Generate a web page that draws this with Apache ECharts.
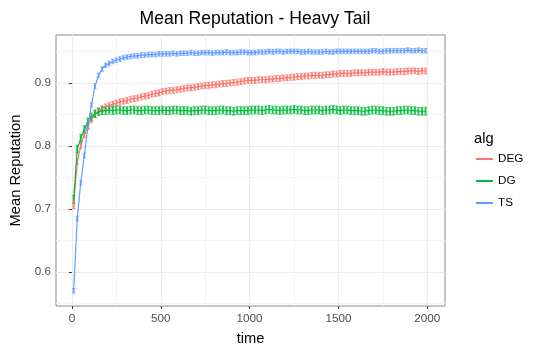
<!DOCTYPE html>
<html>
<head>
<meta charset="utf-8">
<script src="https://cdn.jsdelivr.net/npm/echarts@6/dist/echarts.min.js"></script>
<style>
  html, body { margin: 0; padding: 0; background: #fff; }
  #chart { width: 538px; height: 351px; }
</style>
</head>
<body>
<div id="chart"></div>
<script>
// time steps (every 20)
const times = [
  10, 30, 50, 70, 90, 110, 130, 150, 170, 190,
  210, 230, 250, 270, 290, 310, 330, 350, 370, 390,
  410, 430, 450, 470, 490, 510, 530, 550, 570, 590,
  610, 630, 650, 670, 690, 710, 730, 750, 770, 790,
  810, 830, 850, 870, 890, 910, 930, 950, 970, 990,
  1010, 1030, 1050, 1070, 1090, 1110, 1130, 1150, 1170, 1190,
  1210, 1230, 1250, 1270, 1290, 1310, 1330, 1350, 1370, 1390,
  1410, 1430, 1450, 1470, 1490, 1510, 1530, 1550, 1570, 1590,
  1610, 1630, 1650, 1670, 1690, 1710, 1730, 1750, 1770, 1790,
  1810, 1830, 1850, 1870, 1890, 1910, 1930, 1950, 1970, 1990
];

const degValues = [
  0.705, 0.775, 0.800, 0.818, 0.832, 0.842, 0.850, 0.855, 0.859, 0.862,
  0.864, 0.866, 0.868, 0.870, 0.871, 0.872, 0.874, 0.875, 0.876, 0.878,
  0.879, 0.880, 0.882, 0.883, 0.884, 0.886, 0.887, 0.888, 0.888, 0.889,
  0.890, 0.891, 0.892, 0.892, 0.893, 0.894, 0.895, 0.896, 0.896, 0.897,
  0.897, 0.898, 0.899, 0.899, 0.900, 0.901, 0.901, 0.902, 0.903, 0.904,
  0.904, 0.904, 0.905, 0.905, 0.905, 0.906, 0.906, 0.907, 0.907, 0.908,
  0.908, 0.909, 0.909, 0.910, 0.910, 0.911, 0.911, 0.912, 0.912, 0.912,
  0.912, 0.913, 0.913, 0.914, 0.914, 0.915, 0.915, 0.915, 0.915, 0.916,
  0.916, 0.916, 0.916, 0.917, 0.917, 0.917, 0.917, 0.918, 0.917, 0.917,
  0.917, 0.918, 0.918, 0.918, 0.919, 0.919, 0.919, 0.918, 0.919, 0.919
];

const dgValues = [
  0.715, 0.795, 0.812, 0.826, 0.838, 0.846, 0.851, 0.854, 0.856, 0.856,
  0.857, 0.856, 0.857, 0.857, 0.856, 0.856, 0.857, 0.857, 0.856, 0.856,
  0.857, 0.857, 0.856, 0.856, 0.856, 0.857, 0.856, 0.856, 0.857, 0.857,
  0.856, 0.856, 0.856, 0.855, 0.856, 0.856, 0.857, 0.857, 0.856, 0.856,
  0.856, 0.857, 0.857, 0.856, 0.856, 0.855, 0.856, 0.856, 0.856, 0.856,
  0.857, 0.857, 0.857, 0.856, 0.857, 0.858, 0.857, 0.857, 0.856, 0.857,
  0.857, 0.857, 0.858, 0.857, 0.857, 0.856, 0.856, 0.857, 0.857, 0.857,
  0.856, 0.857, 0.857, 0.858, 0.857, 0.856, 0.857, 0.857, 0.856, 0.856,
  0.856, 0.855, 0.855, 0.856, 0.857, 0.857, 0.856, 0.856, 0.855, 0.855,
  0.855, 0.856, 0.856, 0.857, 0.857, 0.856, 0.856, 0.855, 0.855, 0.855
];

const tsValues = [
  0.570, 0.685, 0.742, 0.785, 0.830, 0.865, 0.895, 0.912, 0.922, 0.928,
  0.931, 0.934, 0.936, 0.938, 0.940, 0.941, 0.942, 0.943, 0.943, 0.944,
  0.944, 0.945, 0.945, 0.945, 0.946, 0.946, 0.946, 0.946, 0.947, 0.946,
  0.947, 0.947, 0.947, 0.948, 0.947, 0.947, 0.948, 0.948, 0.948, 0.947,
  0.948, 0.948, 0.948, 0.949, 0.948, 0.948, 0.948, 0.949, 0.949, 0.948,
  0.948, 0.948, 0.949, 0.949, 0.949, 0.950, 0.949, 0.950, 0.950, 0.949,
  0.950, 0.950, 0.950, 0.950, 0.949, 0.949, 0.950, 0.949, 0.949, 0.949,
  0.949, 0.950, 0.949, 0.949, 0.950, 0.950, 0.950, 0.950, 0.950, 0.950,
  0.950, 0.950, 0.950, 0.950, 0.951, 0.951, 0.950, 0.950, 0.951, 0.951,
  0.951, 0.951, 0.951, 0.951, 0.952, 0.951, 0.951, 0.952, 0.951, 0.951
];

// half-width of the error bars, per series
const degErr = 0.0047;
const dgErr = 0.0062;
const tsErr = 0.0037;

const algNames = ['DEG', 'DG', 'TS'];
const algColors = ['#F8766D', '#00BA38', '#619CFF'];

const xTicks = [0, 500, 1000, 1500, 2000];
const xMinorTicks = [250, 750, 1250, 1750];
const yTicks = [0.6, 0.7, 0.8, 0.9];
const yMinorTicks = [0.55, 0.65, 0.75, 0.85, 0.95];

const FONT = 'Liberation Sans, Arial, Helvetica, sans-serif';

function pairs(vals) {
  return times.map((t, i) => [t, vals[i]]);
}
function bars(vals, e) {
  return times.map((t, i) => [t, vals[i] - e, vals[i] + e]);
}

function renderErr(params, api) {
  const x = api.value(0);
  const lo = api.coord([x, api.value(1)]);
  const hi = api.coord([x, api.value(2)]);
  const col = api.visual('color');
  const bar = { stroke: col, lineWidth: 2, opacity: 0.85 };
  const cap = { stroke: col, lineWidth: 1, opacity: 0.6 };
  const w = 1.8;
  return {
    type: 'group',
    children: [
      { type: 'line', shape: { x1: lo[0], y1: lo[1], x2: hi[0], y2: hi[1] }, style: bar },
      { type: 'line', shape: { x1: lo[0] - w, y1: lo[1], x2: lo[0] + w, y2: lo[1] }, style: cap },
      { type: 'line', shape: { x1: hi[0] - w, y1: hi[1], x2: hi[0] + w, y2: hi[1] }, style: cap }
    ]
  };
}

const allVals = [degValues, dgValues, tsValues];
const allErr = [degErr, dgErr, tsErr];

const series = [];
algNames.forEach((name, k) => {
  series.push({
    name: name,
    type: 'custom',
    xAxisIndex: 0,
    yAxisIndex: 0,
    color: algColors[k],
    renderItem: renderErr,
    data: bars(allVals[k], allErr[k]),
    silent: true
  });
  series.push({
    name: name,
    type: 'line',
    xAxisIndex: 0,
    yAxisIndex: 0,
    color: algColors[k],
    showSymbol: false,
    symbol: 'none',
    lineStyle: { width: 1.2, color: algColors[k] },
    data: pairs(allVals[k])
  });
});

const chart = echarts.init(document.getElementById('chart'), null, { renderer: 'canvas' });

const option = {
  animation: false,
  backgroundColor: '#fff',
  textStyle: { fontFamily: FONT },
  title: [
    {
      text: 'Mean Reputation - Heavy Tail',
      left: 250,
      top: 5,
      textAlign: 'center',
      textStyle: { fontFamily: FONT, fontSize: 17.6, fontWeight: 'normal', color: '#000' }
    },
    {
      text: 'alg',
      left: 469,
      top: 126,
      textStyle: { fontFamily: FONT, fontSize: 14.7, fontWeight: 'normal', color: '#000' }
    }
  ],
  legend: {
    data: algNames,
    orient: 'vertical',
    left: 471,
    top: 148,
    itemWidth: 17,
    itemHeight: 2,
    itemGap: 10,
    icon: 'rect',
    textStyle: { fontFamily: FONT, fontSize: 11.7, color: '#000' },
    selectedMode: false
  },
  grid: {
    left: 56,
    right: 93,
    top: 35,
    bottom: 45,
    show: true,
    borderColor: '#8c8c8c',
    borderWidth: 1,
    backgroundColor: '#fff',
    containLabel: false
  },
  xAxis: [
    {
      type: 'value',
      min: -89.5,
      max: 2099.5,
      name: 'time',
      nameLocation: 'middle',
      nameGap: 25,
      nameTextStyle: { fontFamily: FONT, fontSize: 14.7, color: '#000' },
      axisLine: { show: false },
      axisTick: { show: true, length: 3, customValues: xTicks, lineStyle: { color: '#333' } },
      axisLabel: {
        customValues: xTicks,
        formatter: v => String(v),
        fontFamily: FONT, fontSize: 11.7, color: '#4D4D4D', margin: 7
      },
      splitLine: { show: true, lineStyle: { color: '#ebebeb', width: 1.2 } }
    },
    {
      type: 'value',
      min: -89.5,
      max: 2099.5,
      position: 'bottom',
      axisLine: { show: false },
      axisTick: { show: false, customValues: xMinorTicks },
      axisLabel: { show: false, customValues: xMinorTicks },
      splitLine: { show: true, lineStyle: { color: '#f4f4f4', width: 1 } }
    }
  ],
  yAxis: [
    {
      type: 'value',
      min: 0.546,
      max: 0.976,
      name: 'Mean Reputation',
      nameLocation: 'middle',
      nameGap: 30,
      nameTextStyle: { fontFamily: FONT, fontSize: 14.7, color: '#000' },
      axisLine: { show: false },
      axisTick: { show: true, length: 3, customValues: yTicks, lineStyle: { color: '#333' } },
      axisLabel: { customValues: yTicks, fontFamily: FONT, fontSize: 11.7, color: '#4D4D4D', margin: 5 },
      splitLine: { show: true, lineStyle: { color: '#ebebeb', width: 1.2 } }
    },
    {
      type: 'value',
      min: 0.546,
      max: 0.976,
      position: 'left',
      axisLine: { show: false },
      axisTick: { show: false, customValues: yMinorTicks },
      axisLabel: { show: false, customValues: yMinorTicks },
      splitLine: { show: true, lineStyle: { color: '#f4f4f4', width: 1 } }
    }
  ],
  series: series
};

chart.setOption(option);
</script>
</body>
</html>
